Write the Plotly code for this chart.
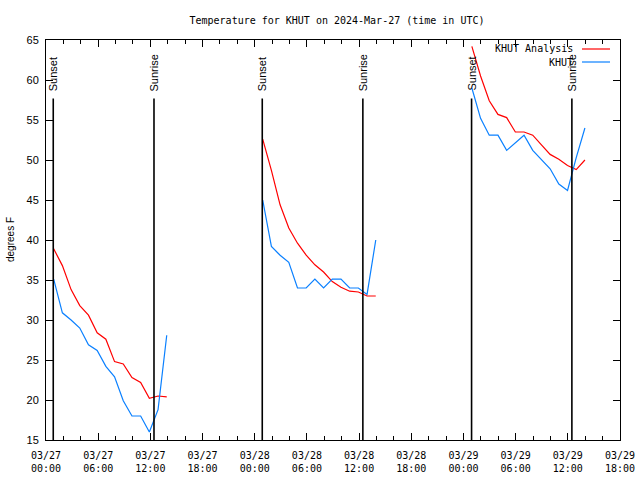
import pandas as pd
import plotly.graph_objects as go

# ---- data ----
night_starts = ["2024-03-27 00:53", "2024-03-28 00:55", "2024-03-29 00:58"]
analysis_n1 = [38.9, 36.8, 33.8, 31.8, 30.6, 28.4, 27.6, 24.8, 24.5, 22.8, 22.2, 20.2, 20.5, 20.4]
obs_n1 = [35.1, 30.9, 30.0, 29.0, 26.9, 26.2, 24.2, 22.9, 19.9, 18.0, 18.0, 16.0, 18.8, 28.1]
analysis_n2 = [52.6, 48.7, 44.4, 41.5, 39.6, 38.1, 36.9, 36.0, 34.8, 34.1, 33.6, 33.5, 33.0, 33.0]
obs_n2 = [45.0, 39.2, 38.1, 37.2, 34.0, 34.0, 35.1, 34.0, 35.1, 35.1, 34.0, 34.0, 33.2, 40.0]
analysis_n3 = [64.2, 60.5, 57.4, 55.7, 55.3, 53.5, 53.5, 53.1, 51.9, 50.7, 50.1, 49.3, 48.8, 50.0]
obs_n3 = [59.0, 55.2, 53.1, 53.1, 51.2, 52.1, 53.1, 51.2, 50.0, 48.9, 47.0, 46.2, 50.3, 54.0]

sunset_times = ["2024-03-27 00:50", "2024-03-28 00:52", "2024-03-29 00:56"]
sunrise_times = ["2024-03-27 12:25", "2024-03-28 12:26", "2024-03-29 12:28"]
sun_line_top = 57.7
sun_label_base = 58.5

tick_times = pd.date_range("2024-03-27 00:00", "2024-03-29 18:00", freq="6h")
tick_labels = [t.strftime("%m/%d") + "<br>" + t.strftime("%H:%M") for t in tick_times]
x_range = ["2024-03-27 00:00", "2024-03-29 18:00"]
y_range = [15, 65]

title_text = "Temperature for KHUT on 2024-Mar-27 (time in UTC)"
series_names = ["KHUT Analysis", "KHUT"]
series_colors = ["#ff0000", "#0a80ff"]

MONO = "DejaVu Sans Mono"
SANS = "Liberation Sans"

# ---- build ----
analysis_nights = [analysis_n1, analysis_n2, analysis_n3]
obs_nights = [obs_n1, obs_n2, obs_n3]

fig = go.Figure()
for start, av, ov in zip(night_starts, analysis_nights, obs_nights):
    times = pd.date_range(start, periods=len(av), freq="1h")
    fig.add_trace(go.Scatter(x=times, y=av, mode="lines",
                             line=dict(color=series_colors[0], width=1.2),
                             showlegend=False, hoverinfo="skip"))
    fig.add_trace(go.Scatter(x=times, y=ov, mode="lines",
                             line=dict(color=series_colors[1], width=1.2),
                             showlegend=False, hoverinfo="skip"))

shapes = []
annotations = []
for label, tlist in (("Sunset", sunset_times), ("Sunrise", sunrise_times)):
    for t in tlist:
        shapes.append(dict(type="line", xref="x", yref="y", x0=t, x1=t,
                           y0=y_range[0], y1=sun_line_top,
                           line=dict(color="black", width=1.6)))
        annotations.append(dict(x=t, y=sun_label_base, xref="x", yref="y",
                                text=label, textangle=-90, showarrow=False,
                                xanchor="center", yanchor="bottom",
                                font=dict(family=SANS, size=11, color="black"),
                                borderpad=0))

# legend (gnuplot style: text right-aligned, sample on the right)
L, R, T, B = 46, 620, 40, 440
W, H = 640, 480
def px(xp):
    return (xp - L) / (R - L)
def py(yp):
    return (B - yp) / (B - T)

legend_rows_y = [49, 62]
for name, color, yy in zip(series_names, series_colors, legend_rows_y):
    annotations.append(dict(x=px(575), y=py(yy), xref="paper", yref="paper",
                            text=name, showarrow=False, xanchor="right",
                            yanchor="middle",
                            font=dict(family=MONO, size=10, color="black")))
    shapes.append(dict(type="line", xref="paper", yref="paper",
                       x0=px(582), x1=px(610), y0=py(yy), y1=py(yy),
                       line=dict(color=color, width=1.2)))

annotations.append(dict(x=px(10), y=0.5, xref="paper", yref="paper",
                        text="degrees F", textangle=-90, showarrow=False,
                        xanchor="center", yanchor="middle",
                        font=dict(family=SANS, size=10, color="black")))

fig.update_layout(
    width=W, height=H,
    margin=dict(l=L, r=W - R, t=T, b=H - B, autoexpand=False),
    paper_bgcolor="white", plot_bgcolor="white",
    title=dict(text=title_text, x=px(337), xref="paper", xanchor="center",
               y=1 - 20 / H, yref="container", yanchor="middle",
               font=dict(family=MONO, size=10, color="black")),
    shapes=shapes, annotations=annotations,
    showlegend=False,
)
fig.update_xaxes(type="date", range=x_range, tickmode="array",
                 tickvals=tick_times, ticktext=tick_labels, automargin=False,
                 showgrid=False, zeroline=False,
                 showline=True, linecolor="black", linewidth=1, mirror="ticks",
                 ticks="inside", ticklen=7, tickcolor="black", tickwidth=1,
                 tickfont=dict(family=MONO, size=10, color="black"),
                 ticklabelstandoff=6,
                 minor=dict(dtick=7200000, tick0="2024-03-27", ticks="inside",
                            ticklen=4, tickcolor="black", showgrid=False))
fig.update_yaxes(range=y_range, dtick=5, tick0=15, automargin=False,
                 showgrid=False, zeroline=False,
                 showline=True, linecolor="black", linewidth=1, mirror="ticks",
                 ticks="inside", ticklen=7, tickcolor="black", tickwidth=1,
                 tickfont=dict(family=SANS, size=11, color="black"),
                 ticklabelstandoff=4)

fig.write_html("out.html",
               config={"displayModeBar": False, "staticPlot": True},
               post_script="document.body.style.margin='0px';document.body.style.overflow='hidden';")
